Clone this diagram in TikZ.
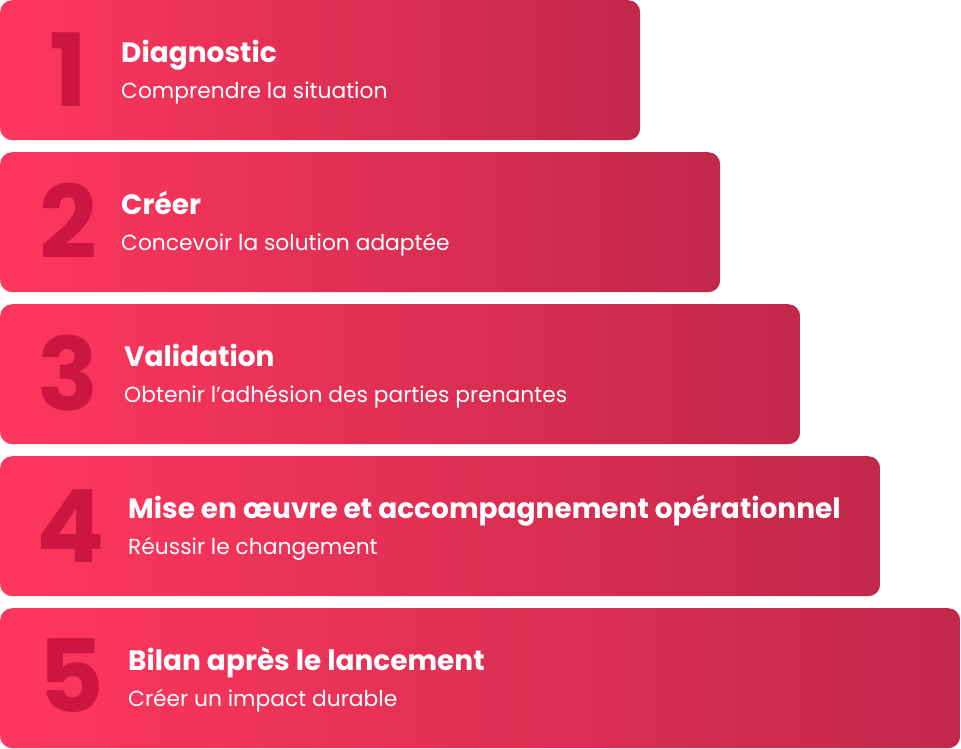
\documentclass[tikz,border=0pt]{standalone}
\usepackage{fontspec}
\setmainfont{Poppins}
\newfontfamily\numfont{Poppins}
\definecolor{barL}{HTML}{FF375E}
\definecolor{barR}{HTML}{C2284A}
\definecolor{numc}{HTML}{CC1640}
\tikzset{
  bar/.style={rounded corners=12pt, minimum height=140pt, anchor=north west,
    inner sep=0pt, left color=barL, right color=barR, draw=none},
  stepnum/.style={anchor=base, text=numc, font=\numfont\bfseries\fontsize{101}{101}\selectfont, inner sep=0pt},
  steptitle/.style={anchor=base west, text=white, font=\bfseries\fontsize{28}{28}\selectfont, inner sep=0pt},
  stepsub/.style={anchor=base west, text=white, font=\fontsize{21.8}{21.8}\selectfont, inner sep=0pt}
}
\begin{document}
\begin{tikzpicture}[x=1pt,y=-1pt]
\useasboundingbox (0,0) rectangle (961,748);
\node[bar, minimum width=640pt] (b1) at (0,0) {};
\node[bar, minimum width=720pt] (b2) at (0,152) {};
\node[bar, minimum width=800pt] (b3) at (0,304) {};
\node[bar, minimum width=880pt] (b4) at (0,456) {};
\node[bar, minimum width=960pt] (b5) at (0,608) {};
\node[stepnum] (n1) at (68,106) {1};
\node[stepnum] (n2) at (68,258) {2};
\node[stepnum] (n3) at (68,410) {3};
\node[stepnum] (n4) at (71,562) {4};
\node[stepnum] (n5) at (71,712) {5};
\node[steptitle] (t1) at (121,62) {Diagnostic};
\node[stepsub] (s1) at (121,98) {Comprendre la situation};
\node[steptitle] (t2) at (121,214) {Créer};
\node[stepsub] (s2) at (121,250) {Concevoir la solution adaptée};
\node[steptitle] (t3) at (124,366) {Validation};
\node[stepsub] (s3) at (124,402) {Obtenir l’adhésion des parties prenantes};
\node[steptitle] (t4) at (128,518) {Mise en œuvre et accompagnement opérationnel};
\node[stepsub] (s4) at (128,554) {Réussir le changement};
\node[steptitle] (t5) at (128,670) {Bilan après le lancement};
\node[stepsub] (s5) at (128,706) {Créer un impact durable};
\end{tikzpicture}
\end{document}
